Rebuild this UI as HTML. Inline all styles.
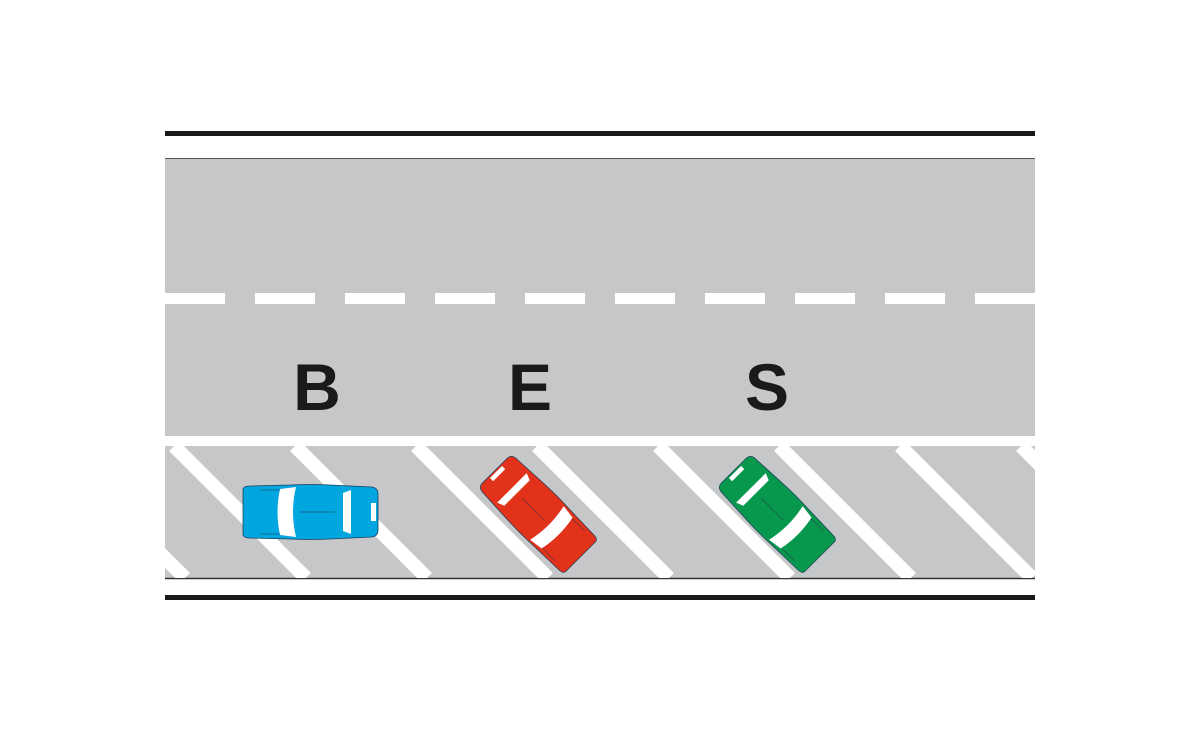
<!DOCTYPE html>
<html><head><meta charset="utf-8"><style>html,body{margin:0;padding:0;background:#fff}svg{display:block}</style></head>
<body>
<svg width="1200" height="735" viewBox="0 0 1200 735" xmlns="http://www.w3.org/2000/svg">
<defs>
<clipPath id="pk"><rect x="165" y="446" width="870" height="132"/></clipPath>
<g id="car">
  <path d="M-67,-22 Q-67,-26 -60,-26 L-20,-27 Q0,-28 20,-27 L62,-25 Q68,-24 68,-18 L68,18 Q68,24 62,25 L20,27 Q0,28 -20,27 L-60,26 Q-67,26 -67,22 Z" stroke="#1d3f5a" stroke-width="0.8"/>
  <path d="M-30,-23 L-14,-25 Q-20,0 -14,25 L-30,23 Q-35,0 -30,-23 Z" fill="#fff"/>
  <path d="M33,-19 L41,-22 L41,22 L33,19 Z" fill="#fff"/>
  <rect x="61" y="-9" width="5" height="18" fill="#fff"/>
  <line x1="-50" y1="-22" x2="-30" y2="-22" stroke="#334" stroke-width="0.5"/>
  <line x1="-50" y1="22" x2="-30" y2="22" stroke="#334" stroke-width="0.5"/>
  <line x1="-10" y1="0" x2="25" y2="0" stroke="#334" stroke-width="0.5"/>
</g>
</defs>
<rect x="165" y="131" width="870" height="5" fill="#1a1a1a"/>
<rect x="165" y="158" width="870" height="420" fill="#c6c7c9"/>
<line x1="165" y1="158.5" x2="1035" y2="158.5" stroke="#555" stroke-width="1"/>
<line x1="165" y1="578.5" x2="1035" y2="578.5" stroke="#333" stroke-width="1.5"/>
<g fill="#fff">
  <rect x="165" y="293" width="60" height="11"/><rect x="255" y="293" width="60" height="11"/><rect x="345" y="293" width="60" height="11"/>
  <rect x="435" y="293" width="60" height="11"/><rect x="525" y="293" width="60" height="11"/><rect x="615" y="293" width="60" height="11"/>
  <rect x="705" y="293" width="60" height="11"/><rect x="795" y="293" width="60" height="11"/><rect x="885" y="293" width="60" height="11"/>
  <rect x="975" y="293" width="60" height="11"/>
</g>
<rect x="165" y="436" width="870" height="10" fill="#fff"/>
<g clip-path="url(#pk)" stroke="#fff" stroke-width="14">
  <line x1="53" y1="446" x2="185" y2="578"/><line x1="174" y1="446" x2="306" y2="578"/>
  <line x1="295" y1="446" x2="427" y2="578"/><line x1="416" y1="446" x2="548" y2="578"/>
  <line x1="537" y1="446" x2="669" y2="578"/><line x1="658" y1="446" x2="790" y2="578"/>
  <line x1="779" y1="446" x2="911" y2="578"/><line x1="900" y1="446" x2="1032" y2="578"/>
  <line x1="1021" y1="446" x2="1153" y2="578"/>
</g>
<rect x="165" y="595" width="870" height="5" fill="#1a1a1a"/>
<g font-family="Liberation Sans, sans-serif" font-weight="bold" font-size="66" fill="#1a1a1a" text-anchor="middle">
  <text x="317" y="410">B</text>
  <text x="530" y="410">E</text>
  <text x="767" y="410">S</text>
</g>
<use href="#car" transform="translate(310,512)" fill="#00a6e0"/>
<use href="#car" transform="translate(538,514) rotate(225) scale(0.9,0.95)" fill="#e3321a"/>
<use href="#car" transform="translate(777,514) rotate(225) scale(0.9,0.95)" fill="#07984e"/>
</svg>
</body></html>
